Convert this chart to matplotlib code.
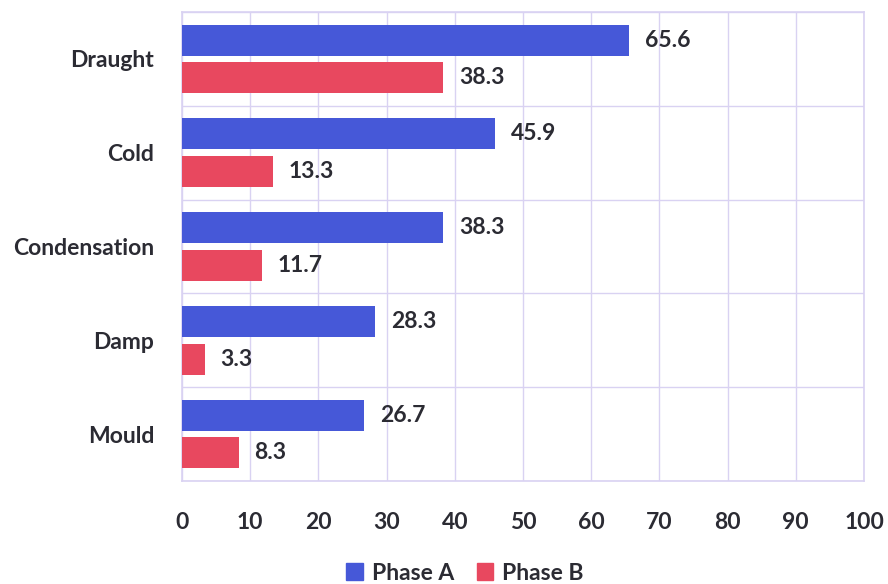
import numpy as np
import matplotlib
matplotlib.use('Agg')
import matplotlib.pyplot as plt
from matplotlib.patches import Patch

plt.rcParams['font.family'] = ['Lato', 'DejaVu Sans']

categories = ['Draught', 'Cold', 'Condensation', 'Damp', 'Mould']
phase_a = [65.6, 45.9, 38.3, 28.3, 26.7]
phase_b = [38.3, 13.3, 11.7, 3.3, 8.3]
series_names = ['Phase A', 'Phase B']
xticks = [0, 10, 20, 30, 40, 50, 60, 70, 80, 90, 100]

col_a = '#4658d8'
col_b = '#e8485f'
grid_col = '#d9d2f2'
txt_col = '#2b2b33'
fs = 16.5

fig = plt.figure(figsize=(8.88, 5.84), dpi=100)
ax = fig.add_axes([182/888, 1 - 481/584, (864-182)/888, (481-12)/584])

y = np.arange(len(categories))
h = 0.33
ax.barh(y - 0.2, phase_a, height=h, color=col_a, zorder=3)
ax.barh(y + 0.2, phase_b, height=h, color=col_b, zorder=3)

# value labels
for yi, v in zip(y, phase_a):
    ax.text(v + 2.3, yi - 0.2, '%.1f' % v, va='center', ha='left', fontsize=fs, fontweight='bold', color=txt_col)
for yi, v in zip(y, phase_b):
    ax.text(v + 2.3, yi + 0.2, '%.1f' % v, va='center', ha='left', fontsize=fs, fontweight='bold', color=txt_col)

ax.set_xlim(0, 100)
ax.set_ylim(len(categories) - 0.5, -0.5)
ax.set_xticks(xticks)
ax.set_xticklabels([str(t) for t in xticks], fontsize=fs, fontweight='bold', color=txt_col)
ax.set_yticks(y)
ax.set_yticklabels(categories, fontsize=fs, fontweight='bold', color=txt_col)
ax.set_yticks(np.arange(len(categories) + 1) - 0.5, minor=True)
ax.tick_params(axis='both', which='both', length=0)
ax.tick_params(axis='x', pad=22)
ax.tick_params(axis='y', pad=20)

ax.grid(axis='x', color=grid_col, linewidth=1, zorder=0)
ax.grid(axis='y', which='minor', color=grid_col, linewidth=1, zorder=0)
ax.grid(axis='y', which='major', visible=False)
for s in ax.spines.values():
    s.set_color(grid_col)
    s.set_linewidth(1.2)

handles = [Patch(color=col_a), Patch(color=col_b)]
fig.legend(handles, series_names, loc='center', bbox_to_anchor=(465/888, 1 - 573/584),
           ncol=2, frameon=False, handlelength=0.7, handleheight=0.7, handletextpad=0.4,
           columnspacing=1.0, prop={'size': fs, 'weight': 'bold'}, labelcolor=txt_col)

fig.savefig('out.png', dpi=100)
